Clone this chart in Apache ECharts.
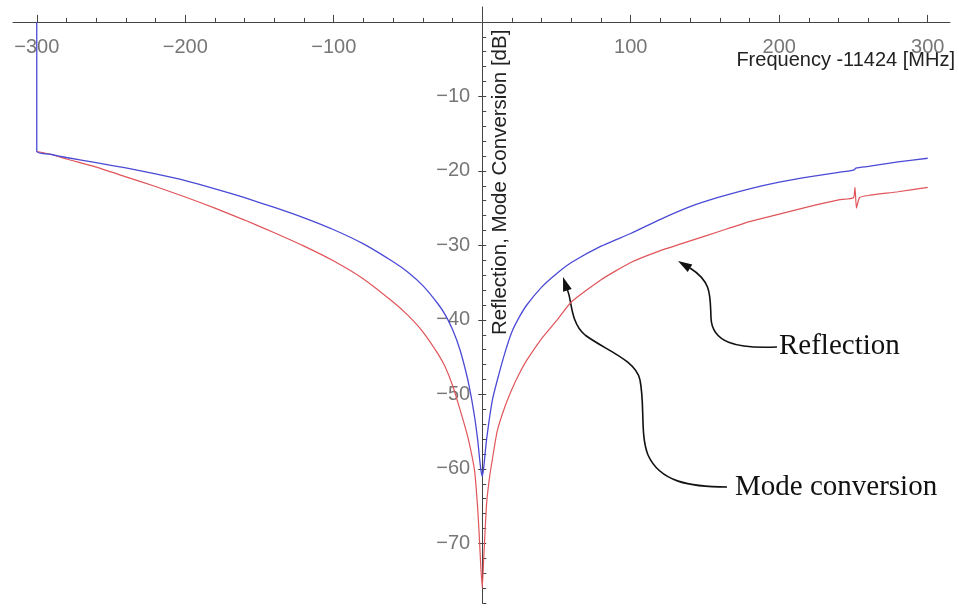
<!DOCTYPE html>
<html><head><meta charset="utf-8">
<script src="https://cdn.jsdelivr.net/npm/echarts@6/dist/echarts.min.js"></script>
<style>html,body{margin:0;padding:0;background:#fff}#c{width:959px;height:608px}</style>
</head><body><div id="c"></div><script>
// Mode conversion (blue)
const mcFreq = [-300,-300,-290,-280,-260,-240,-220,-200,-180,-160,-140,-120,-100,-80,-60,-50,-40,-30,-25,-20,-15,-10,-7,-5,-3,-2,-1,0,1,2,3,5,7,10,15,20,25,30,40,50,60,80,100,120,140,160,180,200,220,240,250,252,260,280,300];
const mcDb   = [0,-17.4,-17.8,-18.2,-18.9,-19.6,-20.4,-21.3,-22.4,-23.6,-24.9,-26.3,-27.9,-29.8,-32.2,-33.6,-35.4,-37.8,-39.3,-41.3,-44.0,-47.8,-50.8,-53.2,-56.2,-58.2,-60.0,-61.0,-59.8,-57.8,-55.9,-53.0,-50.6,-48.2,-44.6,-41.6,-39.6,-38.0,-35.6,-33.8,-32.3,-30.1,-28.4,-26.5,-24.8,-23.5,-22.4,-21.5,-20.8,-20.2,-19.9,-19.6,-19.4,-18.8,-18.3];
// Reflection (red)
const rfFreq = [-300,-290,-280,-260,-240,-220,-200,-180,-160,-140,-120,-100,-80,-60,-50,-40,-30,-25,-20,-15,-10,-7,-5,-3,-2,-1,0,1,2,3,5,7,10,15,20,25,30,40,50,60,80,100,120,140,160,180,200,220,240,250,251,252,254,260,280,300];
const rfDb   = [-17.4,-17.8,-18.4,-19.5,-20.8,-22.1,-23.5,-25.0,-26.6,-28.3,-30.1,-32.1,-34.5,-37.6,-39.4,-41.6,-44.5,-46.3,-48.8,-52.0,-55.5,-58.2,-60.5,-65.5,-69.0,-73.0,-76.0,-72.0,-68.0,-64.5,-61.0,-58.5,-55.0,-51.8,-49.3,-47.2,-45.4,-42.5,-40.1,-37.6,-34.6,-32.3,-30.7,-29.4,-28.1,-26.8,-25.8,-24.8,-23.9,-23.6,-22.2,-25.0,-23.6,-23.3,-22.8,-22.2];
// Tick labels
const xTickLabels = [-300,-200,-100,100,200,300];
const xMinorTicks = [-300,-280,-260,-240,-220,-200,-180,-160,-140,-120,-100,-80,-60,-40,-20,20,40,60,80,100,120,140,160,180,200,220,240,260,280,300];
const yTickLabels = [-70,-60,-50,-40,-30,-20,-10];
const yMinorTicks = [-78,-76,-74,-72,-70,-68,-66,-64,-62,-60,-58,-56,-54,-52,-50,-48,-46,-44,-42,-40,-38,-36,-34,-32,-30,-28,-26,-24,-22,-20,-18,-16,-14,-12,-10,-8,-6,-4,-2];

const zip = (a,b) => a.map((v,i)=>[v,b[i]]);
const fmt = v => String(v).replace('-', '\u2212');
const axisColor = '#444';
const labelStyle = {color:'#777', fontSize:20, fontFamily:'"Liberation Sans", Arial, sans-serif', formatter: fmt};
const GRID = {left:13, right:9, top:7, bottom:5};

function bez(p) {
  return {type:'bezierCurve', shape:{x1:p[0],y1:p[1],cpx1:p[2],cpy1:p[3],cpx2:p[4],cpy2:p[5],x2:p[6],y2:p[7]},
          style:{fill:null, stroke:'#111', lineWidth:1.6}};
}

function buildOption(xOff, yOff) {
  const xa = (extra) => Object.assign({type:'value', min:-316, max:315, position:'top', offset:xOff, splitLine:{show:false}}, extra);
  const ya = (extra) => Object.assign({type:'value', min:-78, max:2, position:'left', offset:yOff, splitLine:{show:false}}, extra);
  return {
    animation:false,
    backgroundColor:'#fff',
    grid:Object.assign({containLabel:false, outerBoundsMode:'none'}, GRID),
    xAxis:[
      xa({axisLine:{onZero:false, lineStyle:{color:axisColor, width:1}},
          axisTick:{inside:false, length:4, customValues:xMinorTicks, lineStyle:{color:axisColor}},
          axisLabel:Object.assign({customValues:xTickLabels, inside:true, margin:16}, labelStyle)}),
      xa({axisLine:{onZero:false, show:false},
          axisTick:{inside:false, length:7, customValues:xTickLabels, lineStyle:{color:axisColor}},
          axisLabel:{show:false}})
    ],
    yAxis:[
      ya({axisLine:{onZero:false, lineStyle:{color:axisColor, width:1}},
          axisTick:{inside:true, length:4, customValues:yMinorTicks, lineStyle:{color:axisColor}},
          axisLabel:Object.assign({customValues:yTickLabels, margin:12}, labelStyle)}),
      ya({axisLine:{onZero:false, show:false},
          axisTick:{inside:false, length:4, customValues:yTickLabels, lineStyle:{color:axisColor}},
          axisLabel:{show:false}})
    ],
    series:[
      {name:'Reflection', type:'line', xAxisIndex:0, yAxisIndex:0, data:zip(rfFreq, rfDb), showSymbol:false, smooth:0.15,
       lineStyle:{color:'#e0555a', width:1.2}, itemStyle:{color:'#e0555a'}},
      {name:'Mode conversion', type:'line', xAxisIndex:0, yAxisIndex:0, data:zip(mcFreq, mcDb), showSymbol:false, smooth:0.15,
       lineStyle:{color:'#4a4ad6', width:1.3}, itemStyle:{color:'#4a4ad6'}}
    ],
    graphic:[
      {type:'text', x:955, y:60, style:{text:'Frequency -11424 [MHz]', font:'20px "Liberation Sans", Arial, sans-serif', fill:'#222', textAlign:'right', textVerticalAlign:'middle', align:'right', verticalAlign:'middle'}},
      {type:'text', x:500, y:335, rotation:Math.PI/2, style:{text:'Reflection, Mode Conversion [dB]', font:'20.5px "Liberation Sans", Arial, sans-serif', fill:'#222', textAlign:'left', textVerticalAlign:'middle', align:'left', verticalAlign:'middle'}},
      {type:'text', x:779, y:346, style:{text:'Reflection', font:'29px "Liberation Serif", "Times New Roman", serif', fill:'#111', textAlign:'left', textVerticalAlign:'middle', align:'left', verticalAlign:'middle'}},
      {type:'text', x:735, y:487, style:{text:'Mode conversion', font:'29px "Liberation Serif", "Times New Roman", serif', fill:'#111', textAlign:'left', textVerticalAlign:'middle', align:'left', verticalAlign:'middle'}},
      bez([777,347, 735,349, 712,342, 711,318]),
      bez([711,318, 710,295, 712,282, 690,268]),
      {type:'polygon', shape:{points:[[678,261],[692.3,264.5],[687.7,272.1]]}, style:{fill:'#111'}},
      bez([727,487, 690,487, 660,482, 648,455]),
      bez([648,455, 640,435, 645,405, 640,380]),
      bez([640,380, 636,360, 605,350, 585,335]),
      bez([585,335, 570,322, 572,300, 567.4,290]),
      {type:'polygon', shape:{points:[[563,277],[571.7,288.9],[563.1,291.7]]}, style:{fill:'#111'}}
    ]
  };
}

const chart = echarts.init(document.getElementById('c'));
chart.setOption(buildOption(0, 0));
// place the axes on the zero lines, using the library's own scales
const zero = chart.convertToPixel({gridIndex:0}, [0, 0]);
const yOffset = -(zero[0] - GRID.left);
const xOffset = -(zero[1] - GRID.top);
chart.setOption(buildOption(xOffset, yOffset), true);
</script></body></html>
